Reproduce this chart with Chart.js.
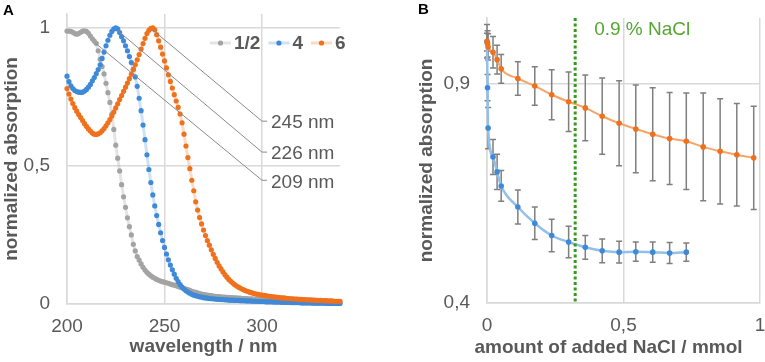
<!DOCTYPE html>
<html>
<head>
<meta charset="utf-8">
<script src="https://cdn.jsdelivr.net/npm/chart.js@4.4.0/dist/chart.umd.min.js"></script>
<style>
	body { margin:0; background:#fff; width:765px; height:362px; overflow:hidden; position:relative; }
	canvas { position:absolute; top:0; }
	#cA { left:0; }
	#cB { left:380px; }
	.panel { position:absolute; z-index:2; font:bold 15px "Liberation Sans", Arial, sans-serif; color:#000; }
</style>
</head>
<body>
<canvas id="cA" width="380" height="362"></canvas>
<canvas id="cB" width="385" height="362"></canvas>
<div class="panel" style="left:3px;top:1px">A</div>
<div class="panel" style="left:418px;top:0px">B</div>
<script>
// ---- panel A : spectra, 200..340 nm in 1 nm steps
var wavelengths = [];
for (var w = 200; w <= 340; w++) wavelengths.push(w);

var abs12 = [
	0.988,0.988,0.987,0.984,0.979,0.977,0.979,0.984,0.988,0.989,
	0.987,0.980,0.970,0.960,0.952,0.944,0.917,0.886,0.860,0.833,
	0.799,0.765,0.730,0.688,0.632,0.575,0.528,0.482,0.432,0.388,
	0.350,0.312,0.280,0.250,0.216,0.192,0.172,0.159,0.145,0.133,
	0.123,0.115,0.108,0.102,0.097,0.093,0.089,0.086,0.083,0.081,
	0.079,0.077,0.075,0.072,0.070,0.068,0.066,0.063,0.061,0.059,
	0.056,0.054,0.052,0.049,0.046,0.044,0.042,0.040,0.038,0.036,
	0.035,0.033,0.032,0.031,0.030,0.029,0.028,0.027,0.027,0.026,
	0.025,0.025,0.024,0.024,0.023,0.023,0.022,0.022,0.021,0.021,
	0.020,0.020,0.020,0.019,0.019,0.019,0.018,0.018,0.018,0.017,
	0.017,0.017,0.016,0.016,0.016,0.015,0.015,0.015,0.014,0.014,
	0.014,0.013,0.013,0.013,0.012,0.012,0.012,0.012,0.011,0.011,
	0.011,0.011,0.010,0.010,0.010,0.010,0.009,0.009,0.009,0.009,
	0.009,0.008,0.008,0.008,0.008,0.008,0.007,0.007,0.007,0.007,
	0.007];
var abs4 = [
	0.825,0.805,0.790,0.780,0.773,0.769,0.767,0.766,0.767,0.771,
	0.777,0.785,0.795,0.808,0.820,0.834,0.849,0.866,0.889,0.912,
	0.935,0.955,0.973,0.987,0.996,1.000,0.996,0.983,0.968,0.953,
	0.935,0.917,0.896,0.874,0.850,0.822,0.788,0.745,0.700,0.648,
	0.595,0.540,0.487,0.440,0.395,0.355,0.320,0.288,0.258,0.230,
	0.205,0.181,0.160,0.141,0.124,0.108,0.093,0.081,0.070,0.061,
	0.054,0.048,0.043,0.039,0.035,0.032,0.030,0.028,0.026,0.025,
	0.023,0.022,0.021,0.020,0.019,0.019,0.018,0.017,0.017,0.016,
	0.016,0.015,0.015,0.014,0.014,0.014,0.013,0.013,0.013,0.012,
	0.012,0.012,0.011,0.011,0.011,0.010,0.010,0.010,0.009,0.009,
	0.009,0.009,0.008,0.008,0.008,0.008,0.007,0.007,0.007,0.007,
	0.006,0.006,0.006,0.006,0.006,0.005,0.005,0.005,0.005,0.005,
	0.004,0.004,0.004,0.004,0.004,0.004,0.003,0.003,0.003,0.003,
	0.003,0.003,0.003,0.002,0.002,0.002,0.002,0.002,0.002,0.002,
	0.002];
var abs6 = [
	0.780,0.760,0.742,0.726,0.711,0.698,0.686,0.675,0.664,0.653,
	0.643,0.634,0.626,0.619,0.615,0.614,0.616,0.620,0.627,0.635,
	0.645,0.656,0.668,0.681,0.695,0.710,0.725,0.740,0.755,0.770,
	0.785,0.800,0.816,0.832,0.849,0.866,0.884,0.903,0.923,0.943,
	0.962,0.979,0.991,0.998,1.000,0.993,0.975,0.953,0.930,0.905,
	0.880,0.855,0.830,0.806,0.782,0.758,0.735,0.712,0.688,0.656,
	0.615,0.572,0.530,0.490,0.448,0.410,0.370,0.340,0.313,0.290,
	0.268,0.248,0.230,0.213,0.196,0.180,0.165,0.151,0.138,0.127,
	0.116,0.106,0.097,0.089,0.082,0.076,0.070,0.065,0.061,0.057,
	0.053,0.050,0.047,0.045,0.042,0.040,0.038,0.036,0.035,0.033,
	0.032,0.031,0.030,0.029,0.028,0.027,0.026,0.025,0.024,0.023,
	0.022,0.022,0.021,0.020,0.020,0.019,0.019,0.018,0.018,0.017,
	0.017,0.016,0.016,0.015,0.015,0.015,0.014,0.014,0.013,0.013,
	0.013,0.012,0.012,0.012,0.011,0.011,0.011,0.010,0.010,0.010,
	0.010];

var xTicksA = [200, 250, 300];
var yTicksA = [0, 0.5, 1];

// peak labels: leader start [nm, abs], end at 300 nm
var peakLabels = ["245 nm", "226 nm", "209 nm"];
var peakFrom = [[243.5, 0.995], [226, 0.99], [214.5, 0.945]];
var peakTo = [0.662, 0.55, 0.448];

// ---- panel B : titration with NaCl
var naclAmount = [0, 0.002, 0.004, 0.022, 0.037, 0.052, 0.113, 0.175, 0.237, 0.299, 0.360,
	0.422, 0.484, 0.545, 0.607, 0.669, 0.730, 0.792, 0.854, 0.915, 0.977];
var absB6 = [0.997, 0.991, 0.984, 0.972, 0.955, 0.934, 0.912, 0.895, 0.875, 0.859, 0.845,
	0.826, 0.810, 0.797, 0.785, 0.775, 0.769, 0.756, 0.746, 0.738, 0.731];
var errB6 = [0.038, 0.03, 0.03, 0.036, 0.033, 0.033, 0.038, 0.044, 0.057, 0.068, 0.075,
	0.087, 0.097, 0.100, 0.106, 0.105, 0.110, 0.123, 0.120, 0.117, 0.118];
var absB4 = [0.995, 0.891, 0.799, 0.733, 0.699, 0.667, 0.619, 0.582, 0.554, 0.539, 0.527,
	0.519, 0.516, 0.517, 0.516, 0.514, 0.516];
var errB4 = [0.02, 0.03, 0.047, 0.04, 0.04, 0.035, 0.039, 0.037, 0.037, 0.036, 0.027,
	0.027, 0.025, 0.022, 0.023, 0.024, 0.021];
var xTicksB = [0, 0.5, 1];
var yTicksB = [0.4, 0.9];
var salineAmount = 0.323; // 0.9 % NaCl

var textCol = "#595959", gridCol = "#d9d9d9";
var fam = '"Liberation Sans", Arial, sans-serif';

Chart.defaults.font.family = fam;
Chart.defaults.font.size = 19;
Chart.defaults.color = textCol;
Chart.defaults.animation = false;

function fixTicks(vals) {
	return function(scale) { scale.ticks = vals.map(v => ({value: v})); };
}
function fixSize(w, h) {
	return function(scale) {
		if (w) scale.width = w;
		if (h) scale.height = h;
		scale.paddingTop = scale.paddingBottom = scale.paddingLeft = scale.paddingRight = 0;
	};
}
function comma(v) { return String(v).replace(".", ","); }

function axis(min, max, ticks, w, h, pad, title) {
	return {
		type: "linear", min: min, max: max,
		afterBuildTicks: fixTicks(ticks),
		afterFit: fixSize(w, h),
		grid: {color: gridCol, lineWidth: 1.5, drawTicks: false},
		border: {color: gridCol, width: 1.5},
		ticks: {padding: pad, maxRotation: 0, autoSkip: false, callback: comma},
		title: {display: !!title, text: title, font: {size: 19, weight: "bold"}, padding: {top: 0, bottom: 4}}
	};
}

function spec(label, data, col, line, order) {
	return {
		label: label, data: data, order: order, clip: false,
		borderColor: line, borderWidth: 3,
		pointRadius: 2.6, pointBorderWidth: 0,
		pointBackgroundColor: col, backgroundColor: col
	};
}

var leaderPlugin = {
	id: "leaders",
	afterDatasetsDraw(chart) {
		var ctx = chart.ctx, xs = chart.scales.x, ys = chart.scales.y;
		ctx.save();
		ctx.strokeStyle = "#8a8a8a";
		ctx.lineWidth = 1;
		ctx.font = "19px " + fam;
		ctx.fillStyle = textCol;
		ctx.textBaseline = "middle";
		peakLabels.forEach((t, i) => {
			var x0 = xs.getPixelForValue(peakFrom[i][0]), y0 = ys.getPixelForValue(peakFrom[i][1]);
			var x1 = xs.getPixelForValue(300), y1 = ys.getPixelForValue(peakTo[i]);
			ctx.beginPath();
			ctx.moveTo(x0, y0);
			ctx.lineTo(x1, y1);
			ctx.lineTo(x1 + 5, y1);
			ctx.stroke();
			ctx.fillText(t, x1 + 9, y1 + 2);
		});
		ctx.restore();
	}
};

var legendPlugin = {
	id: "legendA",
	afterDraw(chart) {
		var ctx = chart.ctx, x = chart.chartArea.right - 130, y = chart.chartArea.top + 29;
		ctx.save();
		ctx.font = "bold 19px " + fam;
		ctx.textBaseline = "middle";
		chart.data.datasets.forEach(ds => {
			ctx.strokeStyle = ds.borderColor;
			ctx.lineWidth = 3;
			ctx.beginPath(); ctx.moveTo(x, y); ctx.lineTo(x + 21, y); ctx.stroke();
			ctx.fillStyle = ds.pointBackgroundColor;
			ctx.beginPath(); ctx.arc(x + 10.5, y, 2.6, 0, 2 * Math.PI); ctx.fill();
			ctx.fillStyle = textCol;
			ctx.fillText(ds.label, x + 24, y + 1);
			x += 24 + ctx.measureText(ds.label).width + 8;
		});
		ctx.restore();
	}
};

var chartA = new Chart(document.getElementById("cA"), {
	type: "line",
	data: {
		labels: wavelengths,
		datasets: [
			spec("1/2", abs12, "#a3a3a3", "rgba(165,165,165,0.3)", 3),
			spec("4", abs4, "#3f8ad8", "rgba(63,138,216,0.25)", 2),
			spec("6", abs6, "#f0711c", "rgba(240,113,28,0.25)", 1)
		]
	},
	options: {
		responsive: false,
		layout: {padding: {top: 14, right: 40, left: 0, bottom: 0}},
		plugins: {legend: {display: false}, tooltip: {enabled: false}},
		scales: {
			x: axis(200, 340, xTicksA, 0, 58, 11, "wavelength / nm"),
			y: axis(0, 1.05, yTicksA, 67, 0, 17, "normalized absorption")
		}
	},
	plugins: [leaderPlugin, legendPlugin]
});

// ---- panel B
var errorBarPlugin = {
	id: "errorBars",
	beforeDatasetsDraw(chart) {
		var ctx = chart.ctx, xs = chart.scales.x, ys = chart.scales.y;
		ctx.save();
		ctx.strokeStyle = "#7f7f7f";
		ctx.lineWidth = 1.5;
		chart.data.datasets.forEach(ds => {
			ds.data.forEach((p, i) => {
				var px = xs.getPixelForValue(p.x);
				var top = ys.getPixelForValue(p.y + ds.errors[i]), bot = ys.getPixelForValue(p.y - ds.errors[i]);
				ctx.beginPath();
				ctx.moveTo(px, top); ctx.lineTo(px, bot);
				ctx.moveTo(px - 3, top); ctx.lineTo(px + 3, top);
				ctx.moveTo(px - 3, bot); ctx.lineTo(px + 3, bot);
				ctx.stroke();
			});
		});
		ctx.restore();
	},
	afterDatasetsDraw(chart) {
		var ctx = chart.ctx, xs = chart.scales.x, ys = chart.scales.y, a = chart.chartArea;
		var gx = xs.getPixelForValue(salineAmount);
		ctx.save();
		ctx.strokeStyle = "#379a1c";
		ctx.lineWidth = 3;
		ctx.setLineDash([3, 2.5]);
		ctx.beginPath(); ctx.moveTo(gx, a.top); ctx.lineTo(gx, a.bottom); ctx.stroke();
		ctx.setLineDash([]);
		ctx.fillStyle = "#55a630";
		ctx.font = "19px " + fam;
		ctx.textBaseline = "middle";
		ctx.fillText("0.9 % NaCl", gx + 19, ys.getPixelForValue(1.024));
		// x title sits a little left of the plot centre
		ctx.fillStyle = textCol;
		ctx.font = "bold 19px " + fam;
		ctx.textAlign = "center";
		ctx.fillText("amount of added NaCl / mmol", (a.left + a.right) / 2 - 15, 348);
		ctx.restore();
	}
};

function pts(ys) { return ys.map((y, i) => ({x: naclAmount[i], y: y})); }

var chartB = new Chart(document.getElementById("cB"), {
	type: "line",
	data: {
		datasets: [
			{label: "6", data: pts(absB6), errors: errB6, clip: false, cubicInterpolationMode: "monotone",
				borderColor: "#f6a46b", borderWidth: 2, pointRadius: 2.8, pointBorderWidth: 0,
				pointBackgroundColor: "#f0711c", backgroundColor: "#f0711c"},
			{label: "4", data: pts(absB4), errors: errB4, clip: false, cubicInterpolationMode: "monotone",
				borderColor: "#93c0ea", borderWidth: 2.5, pointRadius: 2.8, pointBorderWidth: 0,
				pointBackgroundColor: "#3f8ad8", backgroundColor: "#3f8ad8"}
		]
	},
	options: {
		responsive: false,
		layout: {padding: {top: 18, right: 5, left: 35, bottom: 0}},
		plugins: {legend: {display: false}, tooltip: {enabled: false}},
		scales: {
			x: axis(0, 1, xTicksB, 0, 59, 11, ""),
			y: axis(0.4, 1.05, yTicksB, 72, 0, 17, "normalized absorption")
		}
	},
	plugins: [errorBarPlugin]
});
</script>
</body>
</html>
